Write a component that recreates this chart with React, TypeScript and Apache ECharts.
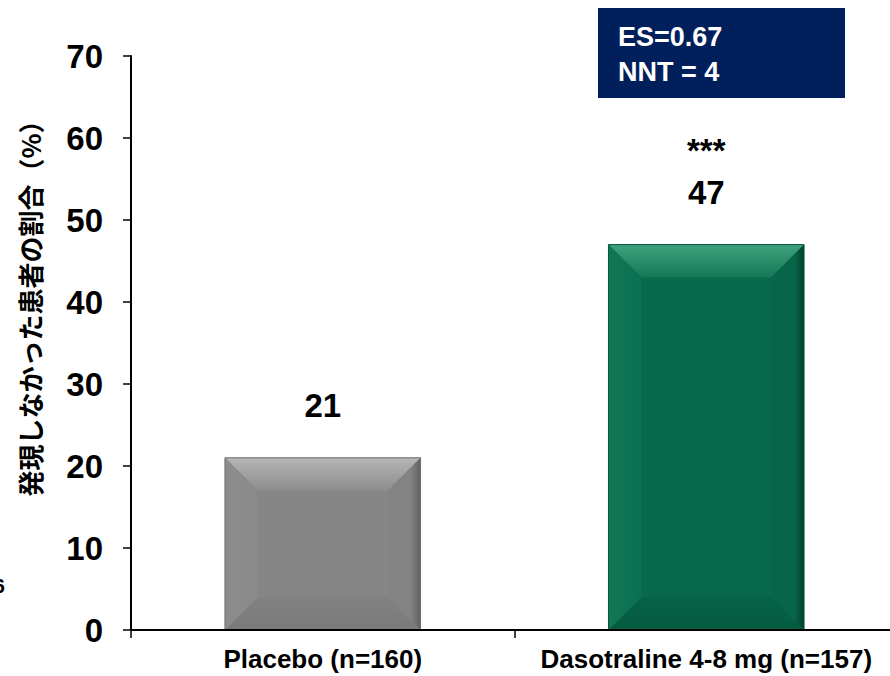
import React, { useEffect, useRef } from "react";
import * as echarts from "echarts";

const categories = ["Placebo (n=160)", "Dasotraline 4-8 mg (n=157)"];
const values = [21, 47];
const valueLabels = ["21", "47"];
const significance = ["", "***"];
const yTicks = [0, 10, 20, 30, 40, 50, 60, 70];
const yAxisTitle = "発現しなかった患者の割合（%）";
const boxLines = ["ES=0.67", "NNT = 4"];
const edgeFragment = "6";

const FONT = "'Liberation Sans', Arial, Helvetica, sans-serif";
const CJK = "'Noto Sans CJK JP', 'Noto Sans', sans-serif";

const palettes = [
  {
    center: "#868686",
    topA: "#b6b6b6",
    topB: "#8c8c8c",
    left: "#898989",
    leftEdge: "#8d8d8d",
    right: "#838383",
    rightEdge: "#626262",
    bottomA: "#828282",
    bottomB: "#7a7a7a",
    outline: "#6e6e6e",
  },
  {
    center: "#07694a",
    topA: "#3fa27d",
    topB: "#157756",
    left: "#0c7150",
    leftEdge: "#117655",
    right: "#07664a",
    rightEdge: "#033f29",
    bottomA: "#066346",
    bottomB: "#055c40",
    outline: "#05553a",
  },
];

export default function App() {
  const ref = useRef<HTMLDivElement>(null);

  useEffect(() => {
    if (!ref.current) return;
    const chart = echarts.init(ref.current, undefined, { renderer: "svg" });

    const renderItem = (params: any, api: any) => {
      const idx = api.value(0);
      const val = api.value(1);
      const top = api.coord([idx, val]);
      const base = api.coord([idx, 0]);
      const bw = api.size([1, 0])[0] * 0.51;
      const cx = top[0];
      const x0 = cx - bw / 2;
      const x1 = cx + bw / 2;
      const y0 = top[1];
      const y1 = base[1];
      const h = y1 - y0;
      const b = Math.min(33, h / 2, bw / 2);
      const p = palettes[idx % palettes.length];
      const children: any[] = [
        {
          type: "rect",
          shape: { x: x0, y: y0, width: bw, height: h },
          style: { fill: p.center },
        },
        {
          type: "polygon",
          shape: { points: [[x0, y0], [x1, y0], [x1 - b, y0 + b], [x0 + b, y0 + b]] },
          style: {
            fill: new echarts.graphic.LinearGradient(0, 0, 0, 1, [
              { offset: 0, color: p.topA },
              { offset: 1, color: p.topB },
            ]),
          },
        },
        {
          type: "polygon",
          shape: { points: [[x0, y1], [x1, y1], [x1 - b, y1 - b], [x0 + b, y1 - b]] },
          style: {
            fill: new echarts.graphic.LinearGradient(0, 0, 0, 1, [
              { offset: 0, color: p.bottomA },
              { offset: 1, color: p.bottomB },
            ]),
          },
        },
        {
          type: "polygon",
          shape: { points: [[x0, y0], [x0 + b, y0 + b], [x0 + b, y1 - b], [x0, y1]] },
          style: {
            fill: new echarts.graphic.LinearGradient(0, 0, 1, 0, [
              { offset: 0, color: p.leftEdge },
              { offset: 1, color: p.left },
            ]),
          },
        },
        {
          type: "polygon",
          shape: { points: [[x1, y0], [x1 - b, y0 + b], [x1 - b, y1 - b], [x1, y1]] },
          style: {
            fill: new echarts.graphic.LinearGradient(0, 0, 1, 0, [
              { offset: 0, color: p.right },
              { offset: 0.7, color: p.right },
              { offset: 1, color: p.rightEdge },
            ]),
          },
        },
        {
          type: "rect",
          shape: { x: x0, y: y0, width: bw, height: h },
          style: { fill: "none", stroke: p.outline, lineWidth: 1 },
        },
        {
          type: "text",
          style: {
            text: valueLabels[idx],
            x: cx,
            y: y0 - 52,
            align: "center",
            verticalAlign: "middle",
            textAlign: "center",
            textVerticalAlign: "middle",
            fontSize: 33,
            fontWeight: "bold",
            fontFamily: FONT,
            fill: "#000",
          },
        },
      ];
      if (significance[idx]) {
        children.push({
          type: "text",
          style: {
            text: significance[idx],
            x: cx,
            y: y0 - 94,
            align: "center",
            verticalAlign: "middle",
            textAlign: "center",
            textVerticalAlign: "middle",
            fontSize: 33,
            fontWeight: "bold",
            fontFamily: FONT,
            fill: "#000",
          },
        });
      }
      return { type: "group", children };
    };

    chart.setOption({
      animation: false,
      backgroundColor: "#ffffff",
      grid: { left: 131, right: 0, top: 56, bottom: 46, containLabel: false },
      xAxis: {
        type: "category",
        data: categories,
        z: 5,
        axisLine: { show: true, lineStyle: { color: "#000", width: 2 } },
        axisTick: { show: true, alignWithLabel: false, length: 8, lineStyle: { color: "#000", width: 1.5 } },
        axisLabel: {
          color: "#000",
          fontSize: 26,
          fontWeight: "bold",
          fontFamily: FONT,
          margin: 16,
          interval: 0,
        },
        splitLine: { show: false },
      },
      yAxis: {
        type: "value",
        min: yTicks[0],
        max: yTicks[yTicks.length - 1],
        interval: 10,
        z: 5,
        axisLine: { show: true, lineStyle: { color: "#000", width: 2 } },
        axisTick: { show: true, inside: false, length: 8, lineStyle: { color: "#000", width: 1.5 } },
        axisLabel: {
          color: "#000",
          fontSize: 33,
          fontWeight: "bold",
          fontFamily: FONT,
          margin: 28,
        },
        splitLine: { show: false },
      },
      series: [
        {
          type: "custom",
          renderItem,
          encode: { x: 0, y: 1 },
          data: values.map((v, i) => [i, v]),
          z: 2,
        },
      ],
      graphic: [
        {
          type: "text",
          x: 29,
          y: 302,
          rotation: Math.PI / 2,
          style: {
            text: yAxisTitle,
            textAlign: "center",
            textVerticalAlign: "middle",
            align: "center",
            verticalAlign: "middle",
            fontSize: 26,
            fontWeight: "bold",
            fontFamily: CJK,
            fill: "#000",
          },
        },
        {
          type: "rect",
          shape: { x: 598, y: 8, width: 247, height: 90 },
          style: { fill: "#011f5b" },
        },
        {
          type: "text",
          x: 618,
          y: 37,
          style: {
            text: boxLines[0],
            textAlign: "left",
            textVerticalAlign: "middle",
            align: "left",
            verticalAlign: "middle",
            fontSize: 27,
            fontWeight: "bold",
            fontFamily: FONT,
            fill: "#ffffff",
          },
        },
        {
          type: "text",
          x: 618,
          y: 72,
          style: {
            text: boxLines[1],
            textAlign: "left",
            textVerticalAlign: "middle",
            align: "left",
            verticalAlign: "middle",
            fontSize: 27,
            fontWeight: "bold",
            fontFamily: FONT,
            fill: "#ffffff",
          },
        },
        {
          type: "text",
          x: 5,
          y: 585,
          style: {
            text: edgeFragment,
            textAlign: "right",
            textVerticalAlign: "middle",
            align: "right",
            verticalAlign: "middle",
            fontSize: 21,
            fontWeight: "bold",
            fontFamily: FONT,
            fill: "#000",
          },
        },
      ],
    });

    return () => chart.dispose();
  }, []);

  return (
    <div
      ref={ref}
      style={{ position: "fixed", left: 0, top: 0, width: 898, height: 676 }}
    />
  );
}
